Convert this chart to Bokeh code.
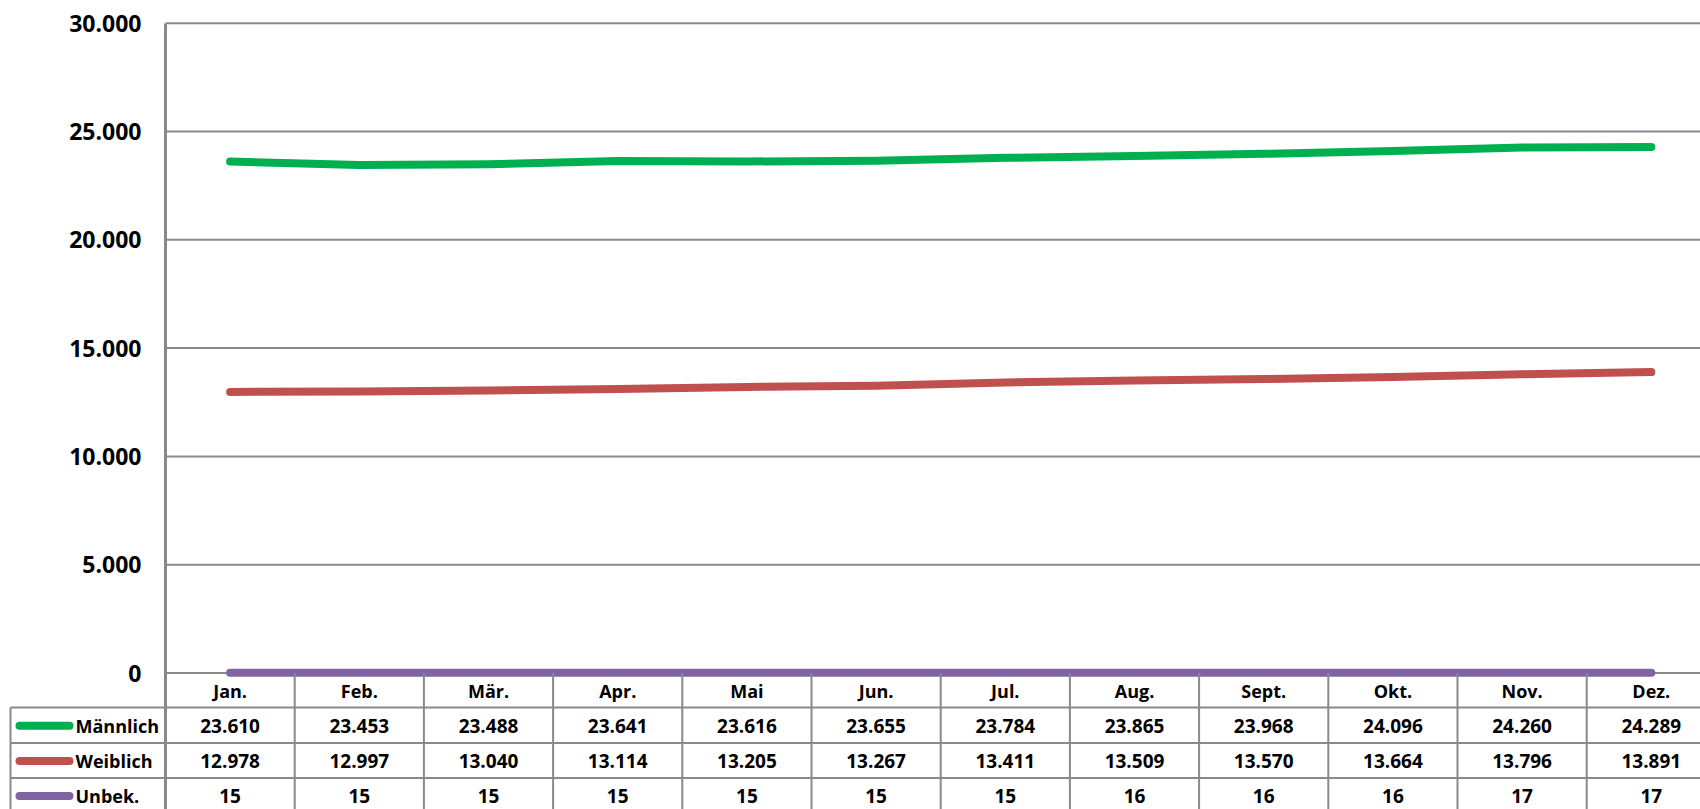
from bokeh.plotting import figure
from bokeh.models import Range1d, FixedTicker, CustomJSTickFormatter
from bokeh.core.properties import value
from bokeh.embed import file_html
from bokeh.resources import INLINE

# ---------------- data ----------------
months = ["Jan.", "Feb.", "Mär.", "Apr.", "Mai", "Jun.", "Jul.", "Aug.", "Sept.", "Okt.", "Nov.", "Dez."]
maennlich = [23610, 23453, 23488, 23641, 23616, 23655, 23784, 23865, 23968, 24096, 24260, 24289]
weiblich = [12978, 12997, 13040, 13114, 13205, 13267, 13411, 13509, 13570, 13664, 13796, 13891]
unbek = [15, 15, 15, 15, 15, 15, 15, 16, 16, 16, 17, 17]
series_names = ["Männlich", "Weiblich", "Unbek."]
series_colors = ["#00B050", "#C0504D", "#8064A2"]
y_ticks = [0, 5000, 10000, 15000, 20000, 25000, 30000]

series = [maennlich, weiblich, unbek]

FONT = "Open Sans"
GRID = "#898989"

# ---------------- layout constants (page px; page has no margin) ----------------
W, H = 1700, 809
COLW = 129.2          # px per category column
X0 = 165              # page x of category 0 left edge (value axis position)
ZERO_Y = 672.5        # page y of value 0
K = 108.3 / 5000      # px per unit
TOP = 0               # frame top
LEFT = 8              # frame left (table label column lies inside the frame)
ROW_TOPS = [707, 742.5, 777.5, 812.5]   # table row borders (page y)


def vy(py):
    return (ZERO_Y - py) / K


def vx(px):
    return (px - X0) / COLW


def fmt(v):
    return f"{v:,}".replace(",", ".")


x_start, x_end = vx(LEFT), vx(W)
y_top, y_bot = vy(TOP), vy(H)
n = len(months)
xs = [i + 0.5 for i in range(n)]

p = figure(width=W, height=H, output_backend="svg", toolbar_location=None,
           x_range=Range1d(x_start, x_end), y_range=Range1d(y_bot, y_top),
           x_axis_location=None, min_border_left=LEFT, min_border_top=TOP,
           min_border_right=0, min_border_bottom=0)
p.outline_line_color = None
p.grid.visible = False

# horizontal gridlines of the value axis, starting at the axis
p.segment(x0=[0] * len(y_ticks), y0=y_ticks, x1=[x_end + 1] * len(y_ticks), y1=y_ticks,
          line_color=GRID, line_width=2)

ax = p.yaxis[0]
ax.fixed_location = 0
ax.ticker = FixedTicker(ticks=y_ticks)
ax.formatter = CustomJSTickFormatter(
    code="return Math.round(tick).toString().replace(/\\B(?=(\\d{3})+(?!\\d))/g, '.');")
ax.bounds = (y_bot, max(y_ticks))
ax.axis_line_color = GRID
ax.axis_line_width = 3
ax.major_tick_line_color = None
ax.minor_tick_line_color = None
ax.major_tick_out = 0
ax.major_tick_in = 0
ax.major_label_standoff = 24
ax.major_label_text_font = FONT
ax.major_label_text_font_style = "bold"
ax.major_label_text_font_size = "23px"
ax.major_label_text_color = "black"

# series lines
for vals, col in zip(series, series_colors):
    p.line(xs, vals, line_color=col, line_width=8, line_cap="round", line_join="round")

# ---------------- data table ----------------
row_vals = [vy(r) for r in ROW_TOPS]
left_x = vx(10)
# column separators
p.segment(x0=list(range(1, n + 1)), y0=[0] * n, x1=list(range(1, n + 1)), y1=[y_bot] * n,
          line_color=GRID, line_width=2)
# left border of label column
p.segment(x0=[left_x], y0=[row_vals[0]], x1=[left_x], y1=[y_bot], line_color=GRID, line_width=2)
# row separators
p.segment(x0=[left_x] * len(row_vals), y0=row_vals, x1=[x_end + 1] * len(row_vals), y1=row_vals,
          line_color=GRID, line_width=2)
# month header
p.text(x=xs, y=[vy(690.5)] * n, text=months, text_align="center", text_baseline="middle",
       text_font=value(FONT), text_font_style="bold", text_font_size="18px", text_color="black")

for r, (name, col, vals) in enumerate(zip(series_names, series_colors, series)):
    yc = vy((ROW_TOPS[r] + ROW_TOPS[r + 1]) / 2 + 0.5)
    p.line([vx(19), vx(69)], [yc, yc], line_color=col, line_width=8, line_cap="round")
    p.text(x=[vx(75)], y=[yc], text=[name], text_align="left", text_baseline="middle",
           text_font=value(FONT), text_font_style="bold", text_font_size="18px", text_color="black")
    p.text(x=xs, y=[yc] * n, text=[fmt(v) for v in vals], text_align="center",
           text_baseline="middle", text_font=value(FONT), text_font_style="bold",
           text_font_size="19px", text_color="black")

open("out.html", "w").write(file_html(p, INLINE))
